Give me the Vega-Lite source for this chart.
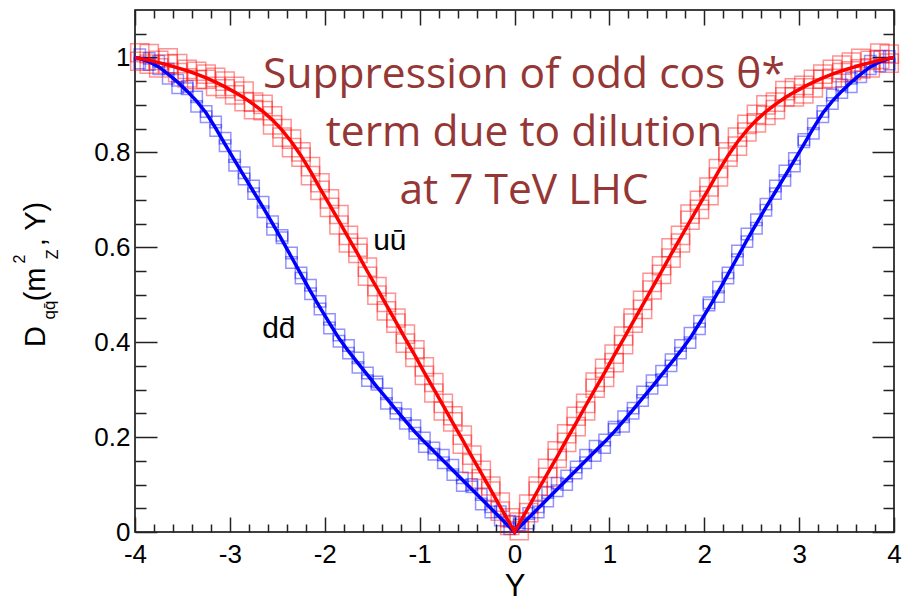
{
  "$schema": "https://vega.github.io/schema/vega-lite/v6.json",
  "width": 759,
  "height": 522,
  "autosize": {"type": "none"},
  "padding": {"left": 135, "top": 10, "right": 14, "bottom": 71},
  "background": "white",
  "config": {"view": {"stroke": "black", "strokeWidth": 1.5}, "axis": {"labelOverlap": false, "labelFlush": false}},
  "data": {"values": [
    {"Y": -4, "fu": 1, "fd": 1},
    {"Y": -3.95, "fu": 0.998, "u1": 1.010, "u2": 0.992, "fd": 0.998, "d1": 1.006, "d2": 0.988},
    {"Y": -3.85, "fu": 0.994, "u1": 0.986, "u2": 1.008, "fd": 0.991, "d1": 0.985, "d2": 0.998},
    {"Y": -3.75, "fu": 0.989, "u1": 0.994, "u2": 0.978, "fd": 0.980, "d1": 0.992, "d2": 0.976},
    {"Y": -3.65, "fu": 0.984, "u1": 0.999, "u2": 0.986, "fd": 0.965, "d1": 0.956, "d2": 0.976},
    {"Y": -3.55, "fu": 0.978, "u1": 0.968, "u2": 0.987, "fd": 0.948, "d1": 0.952, "d2": 0.936},
    {"Y": -3.45, "fu": 0.972, "u1": 0.975, "u2": 0.957, "fd": 0.929, "d1": 0.939, "d2": 0.934},
    {"Y": -3.35, "fu": 0.965, "u1": 0.953, "u2": 0.971, "fd": 0.908, "d1": 0.897, "d2": 0.917},
    {"Y": -3.25, "fu": 0.957, "u1": 0.965, "u2": 0.954, "fd": 0.883, "d1": 0.886, "d2": 0.875},
    {"Y": -3.15, "fu": 0.948, "u1": 0.958, "u2": 0.939, "fd": 0.851, "d1": 0.846, "d2": 0.864},
    {"Y": -3.05, "fu": 0.938, "u1": 0.934, "u2": 0.950, "fd": 0.817, "d1": 0.830, "d2": 0.814},
    {"Y": -2.95, "fu": 0.927, "u1": 0.939, "u2": 0.921, "fd": 0.783, "d1": 0.791, "d2": 0.773},
    {"Y": -2.85, "fu": 0.915, "u1": 0.907, "u2": 0.929, "fd": 0.750, "d1": 0.744, "d2": 0.757},
    {"Y": -2.75, "fu": 0.901, "u1": 0.906, "u2": 0.890, "fd": 0.717, "d1": 0.729, "d2": 0.713},
    {"Y": -2.65, "fu": 0.886, "u1": 0.901, "u2": 0.888, "fd": 0.684, "d1": 0.675, "d2": 0.695},
    {"Y": -2.55, "fu": 0.868, "u1": 0.858, "u2": 0.877, "fd": 0.650, "d1": 0.654, "d2": 0.638},
    {"Y": -2.45, "fu": 0.847, "u1": 0.850, "u2": 0.832, "fd": 0.615, "d1": 0.625, "d2": 0.620},
    {"Y": -2.35, "fu": 0.822, "u1": 0.810, "u2": 0.828, "fd": 0.579, "d1": 0.568, "d2": 0.588},
    {"Y": -2.25, "fu": 0.793, "u1": 0.801, "u2": 0.790, "fd": 0.543, "d1": 0.546, "d2": 0.535},
    {"Y": -2.15, "fu": 0.760, "u1": 0.770, "u2": 0.751, "fd": 0.507, "d1": 0.502, "d2": 0.520},
    {"Y": -2.05, "fu": 0.724, "u1": 0.720, "u2": 0.736, "fd": 0.473, "d1": 0.486, "d2": 0.470},
    {"Y": -1.95, "fu": 0.690, "u1": 0.702, "u2": 0.684, "fd": 0.440, "d1": 0.448, "d2": 0.430},
    {"Y": -1.85, "fu": 0.655, "u1": 0.647, "u2": 0.669, "fd": 0.408, "d1": 0.402, "d2": 0.415},
    {"Y": -1.75, "fu": 0.620, "u1": 0.625, "u2": 0.609, "fd": 0.381, "d1": 0.393, "d2": 0.377},
    {"Y": -1.65, "fu": 0.585, "u1": 0.600, "u2": 0.587, "fd": 0.356, "d1": 0.347, "d2": 0.367},
    {"Y": -1.55, "fu": 0.549, "u1": 0.539, "u2": 0.558, "fd": 0.331, "d1": 0.335, "d2": 0.319},
    {"Y": -1.45, "fu": 0.514, "u1": 0.517, "u2": 0.499, "fd": 0.306, "d1": 0.316, "d2": 0.311},
    {"Y": -1.35, "fu": 0.478, "u1": 0.466, "u2": 0.484, "fd": 0.282, "d1": 0.271, "d2": 0.291},
    {"Y": -1.25, "fu": 0.443, "u1": 0.451, "u2": 0.440, "fd": 0.258, "d1": 0.261, "d2": 0.250},
    {"Y": -1.15, "fu": 0.407, "u1": 0.417, "u2": 0.398, "fd": 0.234, "d1": 0.229, "d2": 0.247},
    {"Y": -1.05, "fu": 0.372, "u1": 0.368, "u2": 0.384, "fd": 0.211, "d1": 0.224, "d2": 0.208},
    {"Y": -0.95, "fu": 0.336, "u1": 0.348, "u2": 0.330, "fd": 0.190, "d1": 0.198, "d2": 0.180},
    {"Y": -0.85, "fu": 0.301, "u1": 0.293, "u2": 0.315, "fd": 0.170, "d1": 0.164, "d2": 0.177},
    {"Y": -0.75, "fu": 0.266, "u1": 0.271, "u2": 0.255, "fd": 0.150, "d1": 0.162, "d2": 0.146},
    {"Y": -0.65, "fu": 0.230, "u1": 0.245, "u2": 0.232, "fd": 0.130, "d1": 0.121, "d2": 0.141},
    {"Y": -0.55, "fu": 0.195, "u1": 0.185, "u2": 0.204, "fd": 0.110, "d1": 0.114, "d2": 0.098},
    {"Y": -0.45, "fu": 0.159, "u1": 0.162, "u2": 0.144, "fd": 0.090, "d1": 0.100, "d2": 0.095},
    {"Y": -0.35, "fu": 0.124, "u1": 0.112, "u2": 0.130, "fd": 0.070, "d1": 0.059, "d2": 0.079},
    {"Y": -0.25, "fu": 0.089, "u1": 0.097, "u2": 0.086, "fd": 0.050, "d1": 0.053, "d2": 0.042},
    {"Y": -0.15, "fu": 0.053, "u1": 0.063, "u2": 0.044, "fd": 0.030, "d1": 0.025, "d2": 0.043},
    {"Y": -0.05, "fu": 0.018, "u1": 0.014, "u2": 0.030, "fd": 0.010, "d1": 0.023, "d2": 0.007},
    {"Y": 0, "fu": 0, "fd": 0},
    {"Y": 0.05, "fu": 0.018, "u1": 0.021, "u2": 0.003, "fd": 0.010, "d1": 0.020, "d2": 0.015},
    {"Y": 0.15, "fu": 0.053, "u1": 0.041, "u2": 0.059, "fd": 0.030, "d1": 0.019, "d2": 0.039},
    {"Y": 0.25, "fu": 0.089, "u1": 0.097, "u2": 0.086, "fd": 0.050, "d1": 0.053, "d2": 0.042},
    {"Y": 0.35, "fu": 0.124, "u1": 0.134, "u2": 0.115, "fd": 0.070, "d1": 0.065, "d2": 0.083},
    {"Y": 0.45, "fu": 0.159, "u1": 0.155, "u2": 0.171, "fd": 0.090, "d1": 0.103, "d2": 0.087},
    {"Y": 0.55, "fu": 0.195, "u1": 0.207, "u2": 0.189, "fd": 0.110, "d1": 0.118, "d2": 0.100},
    {"Y": 0.65, "fu": 0.230, "u1": 0.222, "u2": 0.244, "fd": 0.130, "d1": 0.124, "d2": 0.137},
    {"Y": 0.75, "fu": 0.266, "u1": 0.271, "u2": 0.255, "fd": 0.150, "d1": 0.162, "d2": 0.146},
    {"Y": 0.85, "fu": 0.301, "u1": 0.316, "u2": 0.303, "fd": 0.170, "d1": 0.161, "d2": 0.181},
    {"Y": 0.95, "fu": 0.336, "u1": 0.326, "u2": 0.345, "fd": 0.190, "d1": 0.194, "d2": 0.178},
    {"Y": 1.05, "fu": 0.372, "u1": 0.375, "u2": 0.357, "fd": 0.211, "d1": 0.221, "d2": 0.216},
    {"Y": 1.15, "fu": 0.407, "u1": 0.395, "u2": 0.413, "fd": 0.234, "d1": 0.223, "d2": 0.243},
    {"Y": 1.25, "fu": 0.443, "u1": 0.451, "u2": 0.440, "fd": 0.258, "d1": 0.261, "d2": 0.250},
    {"Y": 1.35, "fu": 0.478, "u1": 0.488, "u2": 0.469, "fd": 0.282, "d1": 0.277, "d2": 0.295},
    {"Y": 1.45, "fu": 0.514, "u1": 0.510, "u2": 0.526, "fd": 0.306, "d1": 0.319, "d2": 0.303},
    {"Y": 1.55, "fu": 0.549, "u1": 0.561, "u2": 0.543, "fd": 0.331, "d1": 0.339, "d2": 0.321},
    {"Y": 1.65, "fu": 0.585, "u1": 0.577, "u2": 0.599, "fd": 0.356, "d1": 0.350, "d2": 0.363},
    {"Y": 1.75, "fu": 0.620, "u1": 0.625, "u2": 0.609, "fd": 0.381, "d1": 0.393, "d2": 0.377},
    {"Y": 1.85, "fu": 0.655, "u1": 0.670, "u2": 0.657, "fd": 0.408, "d1": 0.399, "d2": 0.419},
    {"Y": 1.95, "fu": 0.690, "u1": 0.680, "u2": 0.699, "fd": 0.440, "d1": 0.444, "d2": 0.428},
    {"Y": 2.05, "fu": 0.724, "u1": 0.727, "u2": 0.709, "fd": 0.473, "d1": 0.483, "d2": 0.478},
    {"Y": 2.15, "fu": 0.760, "u1": 0.748, "u2": 0.766, "fd": 0.507, "d1": 0.496, "d2": 0.516},
    {"Y": 2.25, "fu": 0.793, "u1": 0.801, "u2": 0.790, "fd": 0.543, "d1": 0.546, "d2": 0.535},
    {"Y": 2.35, "fu": 0.822, "u1": 0.832, "u2": 0.813, "fd": 0.579, "d1": 0.574, "d2": 0.592},
    {"Y": 2.45, "fu": 0.847, "u1": 0.843, "u2": 0.859, "fd": 0.615, "d1": 0.628, "d2": 0.612},
    {"Y": 2.55, "fu": 0.868, "u1": 0.880, "u2": 0.862, "fd": 0.650, "d1": 0.658, "d2": 0.640},
    {"Y": 2.65, "fu": 0.886, "u1": 0.878, "u2": 0.900, "fd": 0.684, "d1": 0.678, "d2": 0.691},
    {"Y": 2.75, "fu": 0.901, "u1": 0.906, "u2": 0.890, "fd": 0.717, "d1": 0.729, "d2": 0.713},
    {"Y": 2.85, "fu": 0.915, "u1": 0.930, "u2": 0.917, "fd": 0.750, "d1": 0.741, "d2": 0.761},
    {"Y": 2.95, "fu": 0.927, "u1": 0.917, "u2": 0.936, "fd": 0.783, "d1": 0.787, "d2": 0.771},
    {"Y": 3.05, "fu": 0.938, "u1": 0.941, "u2": 0.923, "fd": 0.817, "d1": 0.827, "d2": 0.822},
    {"Y": 3.15, "fu": 0.948, "u1": 0.936, "u2": 0.954, "fd": 0.851, "d1": 0.840, "d2": 0.860},
    {"Y": 3.25, "fu": 0.957, "u1": 0.965, "u2": 0.954, "fd": 0.883, "d1": 0.886, "d2": 0.875},
    {"Y": 3.35, "fu": 0.965, "u1": 0.975, "u2": 0.956, "fd": 0.908, "d1": 0.903, "d2": 0.921},
    {"Y": 3.45, "fu": 0.972, "u1": 0.968, "u2": 0.984, "fd": 0.929, "d1": 0.942, "d2": 0.926},
    {"Y": 3.55, "fu": 0.978, "u1": 0.990, "u2": 0.972, "fd": 0.948, "d1": 0.956, "d2": 0.938},
    {"Y": 3.65, "fu": 0.984, "u1": 0.976, "u2": 0.998, "fd": 0.965, "d1": 0.959, "d2": 0.972},
    {"Y": 3.75, "fu": 0.989, "u1": 0.994, "u2": 0.978, "fd": 0.980, "d1": 0.992, "d2": 0.976},
    {"Y": 3.85, "fu": 0.994, "u1": 1.009, "u2": 0.996, "fd": 0.991, "d1": 0.982, "d2": 1.002},
    {"Y": 3.95, "fu": 0.998, "u1": 0.988, "u2": 1.007, "fd": 0.998, "d1": 1.002, "d2": 0.986},
    {"Y": 4, "fu": 1, "fd": 1}
  ]},
  "layer": [
    {
      "mark": {"type": "point", "shape": "square", "filled": false, "size": 130, "stroke": "#0000ff", "strokeWidth": 1.5, "strokeOpacity": 0.6},
      "encoding": {
        "x": {"field": "Y", "type": "quantitative",
          "scale": {"domain": [-4, 4], "nice": false, "zero": false},
          "axis": {
            "values": [-4, -3.8, -3.6, -3.4, -3.2, -3, -2.8, -2.6, -2.4, -2.2, -2, -1.8, -1.6, -1.4, -1.2, -1, -0.8, -0.6, -0.4, -0.2, 0, 0.2, 0.4, 0.6, 0.8, 1, 1.2, 1.4, 1.6, 1.8, 2, 2.2, 2.4, 2.6, 2.8, 3, 3.2, 3.4, 3.6, 3.8, 4],
            "tickCount": 100,
            "title": "Y", "titleFont": "Liberation Sans", "titleFontSize": 31, "titleFontWeight": "normal", "titleColor": "black", "titlePadding": 4,
            "labelExpr": "datum.value % 1 === 0 ? '' + datum.value : ''",
            "labelFont": "Liberation Sans", "labelFontSize": 26, "labelColor": "black", "labelPadding": 9,
            "labelOverlap": false, "labelFlush": false, "labelBound": false,
            "ticks": false, "domain": false,
            "grid": true, "gridColor": "#222222", "gridWidth": 1.5, "gridOpacity": 1,
            "gridDash": {"condition": {"test": "datum.value % 1 === 0", "value": [15, 492]}, "value": [8, 506]}
          }
        },
        "y": {"field": "d1", "type": "quantitative", "title": null,
          "scale": {"domain": [0, 1.1], "nice": false, "zero": false},
          "axis": {
            "values": [0, 0.05, 0.1, 0.15, 0.2, 0.25, 0.3, 0.35, 0.4, 0.45, 0.5, 0.55, 0.6, 0.65, 0.7, 0.75, 0.8, 0.85, 0.9, 0.95, 1, 1.05],
            "tickCount": 100,
            "title": null,
            "labelExpr": "indexof([0, 0.2, 0.4, 0.6, 0.8, 1], datum.value) >= 0 ? '' + datum.value : ''",
            "labelFont": "Liberation Sans", "labelFontSize": 26, "labelColor": "black", "labelPadding": 5,
            "labelOverlap": false, "labelFlush": false,
            "ticks": false, "domain": false,
            "grid": true, "gridColor": "#222222", "gridWidth": 1.5, "gridOpacity": 1,
            "gridDash": {"condition": {"test": "indexof([0, 0.2, 0.4, 0.6, 0.8, 1], datum.value) >= 0", "value": [22, 715]}, "value": [11, 737]}
          }
        }
      }
    },
    {
      "mark": {"type": "point", "shape": "square", "filled": false, "size": 130, "stroke": "#0000ff", "strokeWidth": 1.5, "strokeOpacity": 0.6},
      "encoding": {
        "x": {"field": "Y", "type": "quantitative", "scale": {"domain": [-4, 4], "nice": false, "zero": false}},
        "y": {"field": "d2", "type": "quantitative", "title": null, "scale": {"domain": [0, 1.1], "nice": false, "zero": false}}
      }
    },
    {
      "mark": {"type": "point", "shape": "square", "filled": false, "size": 330, "stroke": "#ff0000", "strokeWidth": 1.5, "strokeOpacity": 0.6},
      "encoding": {
        "x": {"field": "Y", "type": "quantitative", "scale": {"domain": [-4, 4], "nice": false, "zero": false}},
        "y": {"field": "u1", "type": "quantitative", "title": null, "scale": {"domain": [0, 1.1], "nice": false, "zero": false}}
      }
    },
    {
      "mark": {"type": "point", "shape": "square", "filled": false, "size": 330, "stroke": "#ff0000", "strokeWidth": 1.5, "strokeOpacity": 0.6},
      "encoding": {
        "x": {"field": "Y", "type": "quantitative", "scale": {"domain": [-4, 4], "nice": false, "zero": false}},
        "y": {"field": "u2", "type": "quantitative", "title": null, "scale": {"domain": [0, 1.1], "nice": false, "zero": false}}
      }
    },
    {
      "mark": {"type": "line", "color": "#0000ff", "strokeWidth": 3.5},
      "encoding": {
        "x": {"field": "Y", "type": "quantitative", "scale": {"domain": [-4, 4], "nice": false, "zero": false}},
        "y": {"field": "fd", "type": "quantitative", "title": null, "scale": {"domain": [0, 1.1], "nice": false, "zero": false}}
      }
    },
    {
      "mark": {"type": "line", "color": "#ff0000", "strokeWidth": 3.5},
      "encoding": {
        "x": {"field": "Y", "type": "quantitative", "scale": {"domain": [-4, 4], "nice": false, "zero": false}},
        "y": {"field": "fu", "type": "quantitative", "title": null, "scale": {"domain": [0, 1.1], "nice": false, "zero": false}}
      }
    },
    {
      "data": {"values": [{}]},
      "mark": {"type": "text", "text": "uū", "font": "Liberation Sans", "fontSize": 30, "color": "black", "align": "left", "baseline": "alphabetic"},
      "encoding": {
        "x": {"datum": -1.49, "type": "quantitative", "scale": {"domain": [-4, 4], "nice": false, "zero": false}},
        "y": {"datum": 0.594, "type": "quantitative", "scale": {"domain": [0, 1.1], "nice": false, "zero": false}}
      }
    },
    {
      "data": {"values": [{}]},
      "mark": {"type": "text", "text": "dd̄", "font": "Liberation Sans", "fontSize": 30, "color": "black", "align": "left", "baseline": "alphabetic"},
      "encoding": {
        "x": {"datum": -2.66, "type": "quantitative", "scale": {"domain": [-4, 4], "nice": false, "zero": false}},
        "y": {"datum": 0.409, "type": "quantitative", "scale": {"domain": [0, 1.1], "nice": false, "zero": false}}
      }
    },
    {
      "data": {"values": [{}]},
      "mark": {"type": "text", "text": ["Suppression of odd cos θ*", "term due to dilution", "at 7 TeV LHC"], "font": "Open Sans", "fontSize": 42.5, "color": "#953735", "align": "center", "baseline": "alphabetic", "lineHeight": 58},
      "encoding": {
        "x": {"datum": 0.1, "type": "quantitative", "scale": {"domain": [-4, 4], "nice": false, "zero": false}},
        "y": {"datum": 0.936, "type": "quantitative", "scale": {"domain": [0, 1.1], "nice": false, "zero": false}}
      }
    },
    {
      "data": {"values": [{}]},
      "mark": {"type": "text", "text": "D", "angle": 270, "font": "Liberation Sans", "fontSize": 29, "color": "black", "align": "left", "baseline": "alphabetic"},
      "encoding": {
        "x": {"datum": -4.949, "type": "quantitative", "scale": {"domain": [-4, 4], "nice": false, "zero": false}},
        "y": {"datum": 0.39, "type": "quantitative", "scale": {"domain": [0, 1.1], "nice": false, "zero": false}}
      }
    },
    {
      "data": {"values": [{}]},
      "mark": {"type": "text", "text": "qq̄", "angle": 270, "font": "Liberation Sans", "fontSize": 17, "color": "black", "align": "left", "baseline": "alphabetic"},
      "encoding": {
        "x": {"datum": -4.843, "type": "quantitative", "scale": {"domain": [-4, 4], "nice": false, "zero": false}},
        "y": {"datum": 0.448, "type": "quantitative", "scale": {"domain": [0, 1.1], "nice": false, "zero": false}}
      }
    },
    {
      "data": {"values": [{}]},
      "mark": {"type": "text", "text": "(m", "angle": 270, "font": "Liberation Sans", "fontSize": 29, "color": "black", "align": "left", "baseline": "alphabetic"},
      "encoding": {
        "x": {"datum": -4.949, "type": "quantitative", "scale": {"domain": [-4, 4], "nice": false, "zero": false}},
        "y": {"datum": 0.486, "type": "quantitative", "scale": {"domain": [0, 1.1], "nice": false, "zero": false}}
      }
    },
    {
      "data": {"values": [{}]},
      "mark": {"type": "text", "text": "2", "angle": 270, "font": "Liberation Sans", "fontSize": 16, "color": "black", "align": "left", "baseline": "alphabetic"},
      "encoding": {
        "x": {"datum": -5.159, "type": "quantitative", "scale": {"domain": [-4, 4], "nice": false, "zero": false}},
        "y": {"datum": 0.566, "type": "quantitative", "scale": {"domain": [0, 1.1], "nice": false, "zero": false}}
      }
    },
    {
      "data": {"values": [{}]},
      "mark": {"type": "text", "text": "Z", "angle": 270, "font": "Liberation Sans", "fontSize": 16, "color": "black", "align": "left", "baseline": "alphabetic"},
      "encoding": {
        "x": {"datum": -4.812, "type": "quantitative", "scale": {"domain": [-4, 4], "nice": false, "zero": false}},
        "y": {"datum": 0.575, "type": "quantitative", "scale": {"domain": [0, 1.1], "nice": false, "zero": false}}
      }
    },
    {
      "data": {"values": [{}]},
      "mark": {"type": "text", "text": ", Y)", "angle": 270, "font": "Liberation Sans", "fontSize": 29, "color": "black", "align": "left", "baseline": "alphabetic"},
      "encoding": {
        "x": {"datum": -4.949, "type": "quantitative", "scale": {"domain": [-4, 4], "nice": false, "zero": false}},
        "y": {"datum": 0.602, "type": "quantitative", "scale": {"domain": [0, 1.1], "nice": false, "zero": false}}
      }
    }
  ]
}
